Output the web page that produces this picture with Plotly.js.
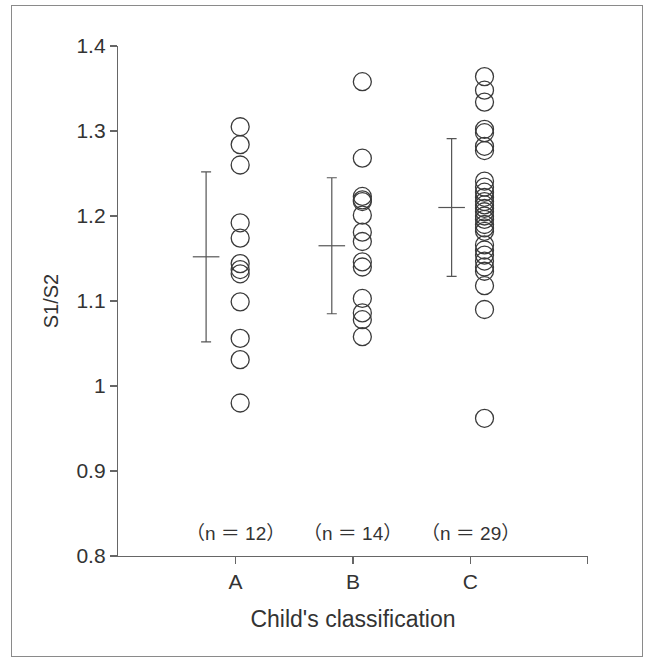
<!DOCTYPE html>
<html>
<head>
<meta charset="utf-8">
<script src="https://cdn.plot.ly/plotly-3.0.1.min.js"></script>
<style>
  html, body { margin: 0; padding: 0; background: #fff; }
  #wrap { position: relative; width: 648px; height: 657px; }
  #chart { width: 648px; height: 657px; }
  #frame { position: absolute; left: 11px; top: 5px; width: 630px; height: 650px;
           border: 1.5px solid #8a8a8a; pointer-events: none; }
</style>
</head>
<body>
<div id="wrap">
  <div id="chart"></div>
  <div id="frame"></div>
</div>
<script>
// Groups of children and their S1/S2 ratios
const categories = ['A', 'B', 'C'];
const groupCounts = ['（n ＝ 12）', '（n ＝ 14）', '（n ＝ 29）'];

const valuesA = [1.305, 1.284, 1.260, 1.192, 1.174, 1.144, 1.137, 1.132, 1.099, 1.056, 1.031, 0.980];
const valuesB = [1.358, 1.268, 1.223, 1.219, 1.217, 1.201, 1.181, 1.170, 1.146, 1.140, 1.103, 1.086, 1.078, 1.058];
const valuesC = [1.364, 1.348, 1.334, 1.302, 1.298, 1.282, 1.277, 1.241, 1.234, 1.228, 1.222, 1.217,
                 1.213, 1.209, 1.205, 1.200, 1.196, 1.190, 1.186, 1.182, 1.166, 1.160, 1.154, 1.147,
                 1.140, 1.135, 1.118, 1.090, 0.962];

// Group mean and standard deviation
const groupMeans = [1.152, 1.165, 1.210];
const groupSD = [0.100, 0.080, 0.081];

// Horizontal placement of the dots and the mean±SD bars relative to each category
const POINT_SHIFT = [0.04, 0.08, 0.12];
const BAR_SHIFT = [-0.25, -0.18, -0.16];

const ink = '#3a3a3a';
const groups = [valuesA, valuesB, valuesC];

const traces = groups.map((vals, i) => ({
  type: 'scatter',
  mode: 'markers',
  x: vals.map(() => i + 1 + POINT_SHIFT[i]),
  y: vals,
  marker: { symbol: 'circle-open', size: 18, color: ink, line: { width: 1.3, color: ink } },
  hoverinfo: 'y',
  showlegend: false
}));

traces.push({
  type: 'scatter',
  mode: 'markers',
  x: groupMeans.map((_, i) => i + 1 + BAR_SHIFT[i]),
  y: groupMeans,
  error_y: { type: 'data', array: groupSD, visible: true, color: '#555', thickness: 1.2, width: 5 },
  marker: { symbol: 'line-ew', size: 19, color: '#555', line: { width: 1.2, color: '#555' } },
  showlegend: false
});

const fam = 'Liberation Sans, Arial, Helvetica, sans-serif';
const txt = '#333';

const layout = {
  width: 648,
  height: 657,
  margin: { l: 118, r: 60, t: 46, b: 101 },
  paper_bgcolor: '#fff',
  plot_bgcolor: '#fff',
  showlegend: false,
  font: { family: fam, color: txt },
  xaxis: {
    range: [0, 4.001],
    tickvals: [1, 2, 3, 4],
    ticktext: categories.concat(['']),
    showgrid: false,
    zeroline: false,
    showline: true,
    linecolor: '#666',
    linewidth: 1.2,
    ticks: 'outside',
    ticklen: 7,
    tickcolor: '#666',
    tickwidth: 1.2,
    tickfont: { size: 21, family: fam, color: txt },
    title: { text: "Child's classification", font: { size: 23, family: fam, color: txt }, standoff: 18 }
  },
  yaxis: {
    range: [0.8, 1.4],
    dtick: 0.1,
    tick0: 0.8,
    showgrid: false,
    zeroline: false,
    showline: true,
    linecolor: '#666',
    linewidth: 1.2,
    ticks: 'outside',
    ticklen: 7,
    tickcolor: '#666',
    tickwidth: 1.2,
    tickfont: { size: 21, family: fam, color: txt },
    title: { text: 'S1/S2', font: { size: 20, family: fam, color: txt }, standoff: 12 }
  },
  annotations: groupCounts.map((t, i) => ({
    x: i + 1,
    y: 0.827,
    xref: 'x',
    yref: 'y',
    text: t,
    showarrow: false,
    font: { size: 19, family: 'Liberation Sans, Noto Sans CJK JP, sans-serif', color: txt }
  }))
};

Plotly.newPlot('chart', traces, layout, { displayModeBar: false, staticPlot: true });
</script>
</body>
</html>
